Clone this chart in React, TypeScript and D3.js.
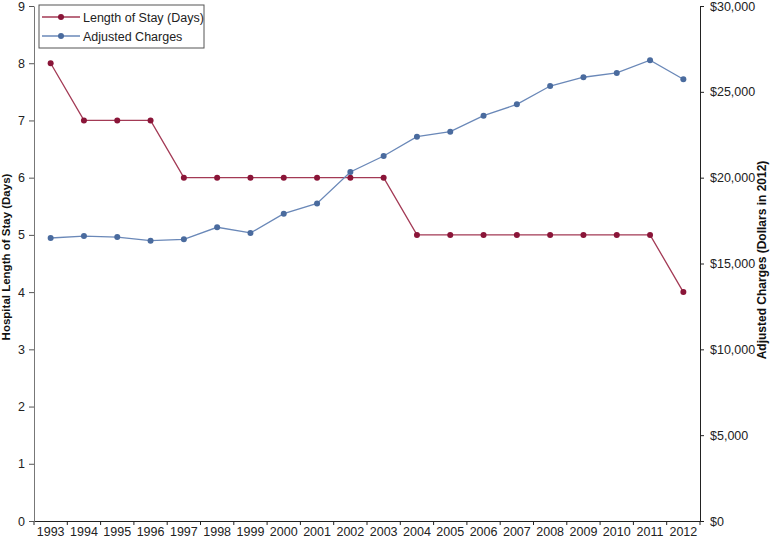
import React, { useRef, useEffect } from "react";
import * as d3 from "d3";

const years = [
  "1993", "1994", "1995", "1996", "1997", "1998", "1999", "2000", "2001", "2002",
  "2003", "2004", "2005", "2006", "2007", "2008", "2009", "2010", "2011", "2012",
];
const stayDays = [8, 7, 7, 7, 6, 6, 6, 6, 6, 6, 6, 5, 5, 5, 5, 5, 5, 5, 5, 4];
const adjustedCharges = [
  16485, 16600, 16540, 16330, 16410, 17110, 16780, 17900, 18500, 20330,
  21260, 22390, 22680, 23610, 24270, 25340, 25850, 26100, 26840, 25730,
];
const leftTicks = [0, 1, 2, 3, 4, 5, 6, 7, 8, 9];
const rightTicks = [0, 5000, 10000, 15000, 20000, 25000, 30000];

const W = 771;
const H = 544;
const margin = { top: 6, right: 71, bottom: 23, left: 34 };
const RED = "#8a1538";
const RED_LINE = "#a33a55";
const BLUE = "#4a6b9e";
const BLUE_LINE = "#6a88b8";
const FONT = "Liberation Sans, Arial, Helvetica, sans-serif";

function App() {
  const svgRef = useRef<SVGSVGElement>(null);

  useEffect(() => {
    const svg = d3.select(svgRef.current);
    svg.selectAll("*").remove();

    const x = d3
      .scaleBand()
      .domain(years)
      .range([margin.left, W - margin.right]);
    const yL = d3.scaleLinear().domain([0, 9]).range([H - margin.bottom, margin.top]);
    const yR = d3.scaleLinear().domain([0, 30000]).range([H - margin.bottom, margin.top]);
    const cx = (i: number) => (x(years[i]) as number) + x.bandwidth() / 2;

    // bottom axis, ticks sit on the band edges
    const xAxis = svg
      .append("g")
      .attr("transform", `translate(0,${H - margin.bottom})`)
      .call(d3.axisBottom(x).tickSize(0).tickPadding(6));
    xAxis.select(".domain").attr("stroke", "#222");
    xAxis.selectAll("text").attr("font-size", 12.5).attr("font-family", FONT).attr("fill", "#222");
    const bounds = years.map((y) => x(y) as number).concat([W - margin.right]);
    xAxis
      .selectAll(".bt")
      .data(bounds)
      .join("line")
      .attr("x1", (d) => d)
      .attr("x2", (d) => d)
      .attr("y1", 0)
      .attr("y2", 4)
      .attr("stroke", "#222");

    // left axis
    const lAxis = svg
      .append("g")
      .attr("transform", `translate(${margin.left},0)`)
      .call(d3.axisLeft(yL).tickValues(leftTicks).tickSize(5).tickPadding(4).tickSizeOuter(0));
    lAxis.select(".domain").attr("stroke", "#777");
    lAxis.selectAll(".tick line").attr("stroke", "#555");
    lAxis.selectAll("text").attr("font-size", 12.5).attr("font-family", FONT).attr("fill", "#222");

    // right axis
    const rAxis = svg
      .append("g")
      .attr("transform", `translate(${W - margin.right},0)`)
      .call(
        d3
          .axisRight(yR)
          .tickValues(rightTicks)
          .tickSize(4)
          .tickPadding(6)
          .tickSizeOuter(0)
          .tickFormat((d) => "$" + d3.format(",")(d as number))
      );
    rAxis.select(".domain").attr("stroke", "#222");
    rAxis.selectAll(".tick line").attr("stroke", "#222");
    rAxis.selectAll("text").attr("font-size", 12.5).attr("font-family", FONT).attr("fill", "#222");

    // axis titles
    svg
      .append("text")
      .attr("transform", `translate(10,257) rotate(-90)`)
      .attr("text-anchor", "middle")
      .attr("font-family", FONT)
      .attr("font-weight", "bold")
      .attr("font-size", 11.5)
      .attr("fill", "#111")
      .text("Hospital Length of Stay (Days)");
    svg
      .append("text")
      .attr("transform", `translate(766,260) rotate(-90)`)
      .attr("text-anchor", "middle")
      .attr("font-family", FONT)
      .attr("font-weight", "bold")
      .attr("font-size", 12)
      .attr("fill", "#111")
      .text("Adjusted Charges (Dollars in 2012)");

    // lines
    const lineL = d3
      .line<number>()
      .x((_, i) => cx(i))
      .y((d) => yL(d));
    const lineR = d3
      .line<number>()
      .x((_, i) => cx(i))
      .y((d) => yR(d));

    svg
      .append("path")
      .datum(stayDays)
      .attr("d", lineL)
      .attr("fill", "none")
      .attr("stroke", RED_LINE)
      .attr("stroke-width", 1.3);
    svg
      .append("path")
      .datum(adjustedCharges)
      .attr("d", lineR)
      .attr("fill", "none")
      .attr("stroke", BLUE_LINE)
      .attr("stroke-width", 1.3);

    svg
      .selectAll(".ptR")
      .data(stayDays)
      .join("circle")
      .attr("cx", (_, i) => cx(i))
      .attr("cy", (d) => yL(d))
      .attr("r", 3)
      .attr("fill", RED);
    svg
      .selectAll(".ptB")
      .data(adjustedCharges)
      .join("circle")
      .attr("cx", (_, i) => cx(i))
      .attr("cy", (d) => yR(d))
      .attr("r", 3)
      .attr("fill", BLUE);

    // legend
    const lg = svg.append("g").attr("transform", "translate(39,5)");
    lg.append("rect")
      .attr("width", 165)
      .attr("height", 43)
      .attr("fill", "white")
      .attr("stroke", "#555")
      .attr("stroke-width", 1);
    const items = [
      { label: "Length of Stay (Days)", color: RED, line: RED_LINE },
      { label: "Adjusted Charges", color: BLUE, line: BLUE_LINE },
    ];
    items.forEach((it, i) => {
      const yy = 12 + i * 19;
      lg.append("line")
        .attr("x1", 3)
        .attr("x2", 41)
        .attr("y1", yy)
        .attr("y2", yy)
        .attr("stroke", it.line)
        .attr("stroke-width", 1.3);
      lg.append("circle").attr("cx", 22).attr("cy", yy).attr("r", 3).attr("fill", it.color);
      lg.append("text")
        .attr("x", 44)
        .attr("y", yy + 4.5)
        .attr("font-family", FONT)
        .attr("font-size", 12.5)
        .attr("fill", "#222")
        .text(it.label);
    });
  }, []);

  return (
    <div style={{ position: "absolute", left: 0, top: 0 }}>
      <svg ref={svgRef} width={W} height={H} style={{ display: "block", background: "white" }} />
    </div>
  );
}

export default App;
